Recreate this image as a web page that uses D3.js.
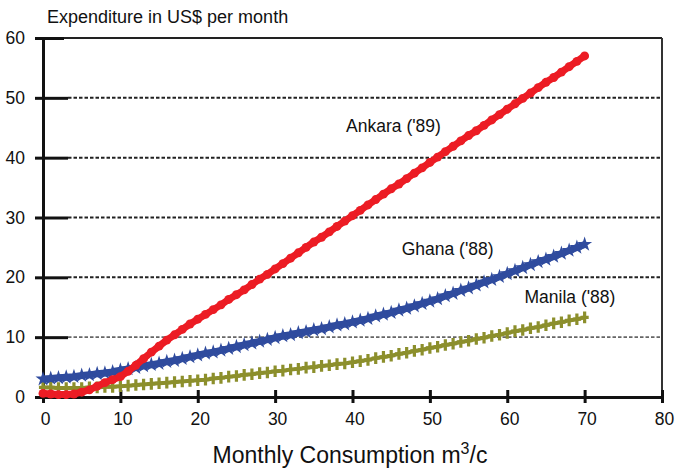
<!DOCTYPE html>
<html>
<head>
<meta charset="utf-8">
<script src="https://cdn.jsdelivr.net/npm/d3@7"></script>
<style>
  body { margin: 0; background: #fff; }
  text { font-family: "Liberation Sans", Arial, sans-serif; fill: #111; }
</style>
</head>
<body>
<div id="chart"></div>
<script>
// data, x = 0..70 step 1
var consumption = d3.range(0, 71);

var ankara = [0.6, 0.5, 0.4, 0.4, 0.5, 0.8, 1.2, 1.8, 2.4, 2.9, 3.4,
    4.3, 5.3, 6.4, 7.5, 8.5, 9.5, 10.4, 11.3, 12.2, 13.0,
    13.8, 14.6, 15.4, 16.3, 17.1, 17.9, 18.8, 19.7, 20.5, 21.4,
    22.3, 23.2, 24.1, 25.0, 25.9, 26.7, 27.6, 28.5, 29.4, 30.3,
    31.2, 32.1, 33.0, 33.9, 34.8, 35.6, 36.5, 37.4, 38.3, 39.2,
    40.1, 41.0, 41.9, 42.8, 43.7, 44.5, 45.4, 46.3, 47.2, 48.1,
    49.0, 49.9, 50.8, 51.7, 52.6, 53.4, 54.3, 55.2, 56.1, 57.0];

var ghana = [3.0, 3.1, 3.2, 3.3, 3.4, 3.6, 3.7, 3.9, 4.0, 4.2, 4.5,
    4.7, 4.9, 5.2, 5.4, 5.6, 5.9, 6.1, 6.4, 6.7, 7.0,
    7.3, 7.5, 7.8, 8.1, 8.4, 8.7, 9.0, 9.3, 9.6, 9.9,
    10.2, 10.4, 10.7, 10.9, 11.2, 11.4, 11.7, 12.0, 12.2, 12.5,
    12.8, 13.1, 13.5, 13.8, 14.1, 14.5, 14.8, 15.2, 15.6, 16.0,
    16.4, 16.9, 17.3, 17.8, 18.2, 18.7, 19.2, 19.6, 20.1, 20.6,
    21.1, 21.6, 22.1, 22.6, 23.0, 23.5, 24.0, 24.5, 25.0, 25.5];

var manila = [1.6, 1.6, 1.5, 1.5, 1.5, 1.5, 1.6, 1.6, 1.7, 1.7, 1.8,
    1.9, 2.0, 2.1, 2.2, 2.3, 2.4, 2.5, 2.6, 2.7, 2.8,
    2.9, 3.1, 3.2, 3.4, 3.5, 3.7, 3.8, 4.0, 4.1, 4.3,
    4.4, 4.6, 4.7, 4.9, 5.0, 5.2, 5.3, 5.5, 5.6, 5.8,
    6.0, 6.2, 6.5, 6.7, 6.9, 7.2, 7.4, 7.7, 7.9, 8.2,
    8.4, 8.7, 8.9, 9.2, 9.4, 9.7, 9.9, 10.2, 10.4, 10.7,
    11.0, 11.2, 11.5, 11.7, 12.0, 12.3, 12.5, 12.8, 13.0, 13.3];

var xTicks = [0, 10, 20, 30, 40, 50, 60, 70, 80];
var yTicks = [0, 10, 20, 30, 40, 50, 60];
var gridValues = [10, 20, 30, 40, 50];

var seriesNames = ["Ankara ('89)", "Ghana ('88)", "Manila ('88)"];
var labelPos = [[45.3, 44.3], [52.3, 23.7], [68.1, 15.7]];

var svgWidth = 676;
var svgHeight = 470;

var margin = { top: 38, right: 14, bottom: 73, left: 43 };
var width = svgWidth - margin.left - margin.right;
var height = svgHeight - margin.top - margin.bottom;

var svg = d3.select('#chart')
    .append('svg')
    .attr('width', svgWidth)
    .attr('height', svgHeight);

var chartGroup = svg.append('g')
    .attr('transform', `translate(${margin.left}, ${margin.top})`);

var xScale = d3.scaleLinear().domain([0, 80]).range([0, width]);
var yScale = d3.scaleLinear().domain([0, 60]).range([height, 0]);

// dotted grid lines
chartGroup.selectAll('.grid')
    .data(gridValues)
    .enter()
    .append('line')
    .attr('x1', 25)
    .attr('x2', width)
    .attr('y1', d => yScale(d))
    .attr('y2', d => yScale(d))
    .attr('stroke', d => d === 10 ? '#666' : '#222')
    .attr('stroke-width', d => d === 10 ? 1.6 : 2)
    .attr('stroke-dasharray', '3.5,2');

// frame top + right
chartGroup.append('line')
    .attr('x1', 0).attr('x2', width)
    .attr('y1', 0).attr('y2', 0)
    .attr('stroke', '#222').attr('stroke-width', 2);
chartGroup.append('line')
    .attr('x1', width).attr('x2', width)
    .attr('y1', 0).attr('y2', height)
    .attr('stroke', '#333').attr('stroke-width', 2);

// y axis
var yAxis = chartGroup.append('g')
    .call(d3.axisLeft(yScale).tickValues(yTicks).tickSize(8).tickPadding(10));
yAxis.select('.domain').attr('stroke', '#111').attr('stroke-width', 3);
yAxis.selectAll('.tick line').attr('stroke', '#111').attr('stroke-width', 3);
yAxis.selectAll('.tick')
    .filter(d => d > 0)
    .append('line')
    .attr('x1', 0)
    .attr('x2', d => d === 60 ? 21 : 25)
    .attr('stroke', '#111')
    .attr('stroke-width', 3);
yAxis.selectAll('text')
    .style('font-size', '17.5px')
    .style('font-family', '"Liberation Sans", Arial, sans-serif')
    .attr('fill', '#111');

// x axis
var xAxis = chartGroup.append('g')
    .attr('transform', `translate(0, ${height})`)
    .call(d3.axisBottom(xScale).tickValues(xTicks).tickSizeOuter(0).tickSize(6).tickPadding(10));
xAxis.select('.domain').attr('stroke', '#111').attr('stroke-width', 3);
xAxis.selectAll('.tick line')
    .attr('y1', -7)
    .attr('y2', 6)
    .attr('stroke', '#111')
    .attr('stroke-width', 3);
xAxis.selectAll('text')
    .attr('dx', 2)
    .style('font-size', '17.5px')
    .style('font-family', '"Liberation Sans", Arial, sans-serif')
    .attr('fill', '#111');

// series
var lineGen = d3.line()
    .x((d, i) => xScale(consumption[i]))
    .y(d => yScale(d));

function drawSeries(values, color, symbol, size, lineWidth) {
    var g = chartGroup.append('g');
    g.append('path')
        .datum(values)
        .attr('d', lineGen)
        .attr('fill', 'none')
        .attr('stroke', color)
        .attr('stroke-width', lineWidth);
    g.selectAll('path.mark')
        .data(values)
        .enter()
        .append('path')
        .attr('class', 'mark')
        .attr('transform', (d, i) => `translate(${xScale(consumption[i])}, ${yScale(d)})`)
        .attr('d', d3.symbol().type(symbol).size(size))
        .attr('fill', color);
}

// custom plus with long vertical bar for Manila
var tallCross = {
    draw: function(context, size) {
        var h = Math.sqrt(size) * 0.75;
        var w = 1.6;
        context.moveTo(-w, -h);
        context.lineTo(w, -h);
        context.lineTo(w, -w);
        context.lineTo(h * 0.7, -w);
        context.lineTo(h * 0.7, w);
        context.lineTo(w, w);
        context.lineTo(w, h);
        context.lineTo(-w, h);
        context.lineTo(-w, w);
        context.lineTo(-h * 0.7, w);
        context.lineTo(-h * 0.7, -w);
        context.lineTo(-w, -w);
        context.closePath();
    }
};

drawSeries(manila, '#8c8f2c', tallCross, 60, 4);
drawSeries(ghana, '#2f4b9e', d3.symbolStar, 70, 7);
drawSeries(ankara, '#ec1c24', d3.symbolCircle, 62, 7);

// series labels
chartGroup.selectAll('.series-label')
    .data(seriesNames)
    .enter()
    .append('text')
    .attr('class', 'series-label')
    .attr('x', (d, i) => xScale(labelPos[i][0]))
    .attr('y', (d, i) => yScale(labelPos[i][1]))
    .attr('text-anchor', 'middle')
    .style('font-size', '17.5px')
    .text(d => d);

// axis titles
svg.append('text')
    .attr('x', 47)
    .attr('y', 23)
    .style('font-size', '18px')
    .text('Expenditure in US$ per month');

var xTitle = svg.append('text')
    .attr('x', 350)
    .attr('y', 463)
    .attr('text-anchor', 'middle')
    .style('font-size', '23px');
xTitle.append('tspan').text('Monthly Consumption m');
xTitle.append('tspan').attr('dy', -9).style('font-size', '16px').text('3');
xTitle.append('tspan').attr('dy', 9).text('/c');
</script>
</body>
</html>
